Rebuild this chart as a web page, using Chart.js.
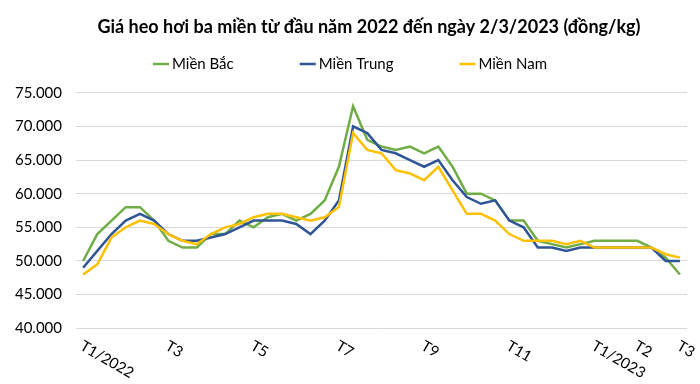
<!DOCTYPE html>
<html>
<head>
<meta charset="utf-8">
<script src="https://cdn.jsdelivr.net/npm/chart.js@4"></script>
<style>
  html, body { margin: 0; padding: 0; background: #fff; }
  #wrap { width: 700px; height: 384px; position: relative; }
</style>
</head>
<body>
<div id="wrap"><canvas id="c" width="700" height="384"></canvas></div>
<script>
const titleText = 'Giá heo hơi ba miền từ đầu năm 2022 đến ngày 2/3/2023 (đồng/kg)';
const tickLabels = ['T1/2022','','','','','','T3','','','','','','T5','','','','','','T7','','','','','','T9','','','','','','T11','','','','','','T1/2023','','','T2','','','T3'];
const seriesNames = ['Miền Bắc', 'Miền Trung', 'Miền Nam'];
const mienBac = [50000,54000,56000,58000,58000,56000,53000,52000,52000,54000,54000,56000,55000,56500,57000,56000,57000,59000,64000,73000,68000,67000,66500,67000,66000,67000,64000,60000,60000,59000,56000,56000,53000,52500,52000,52500,53000,53000,53000,53000,52000,50500,48000];
const mienTrung = [49000,51500,54000,56000,57000,56000,54000,53000,53000,53500,54000,55000,56000,56000,56000,55500,54000,56000,59000,70000,69000,66500,66000,65000,64000,65000,62000,59500,58500,59000,56000,55000,52000,52000,51500,52000,52000,52000,52000,52000,52000,50000,50000];
const mienNam = [48000,49500,53500,55000,56000,55500,54000,53000,52500,54000,55000,55500,56500,57000,57000,56500,56000,56500,58000,69000,66500,66000,63500,63000,62000,64000,60500,57000,57000,56000,54000,53000,53000,53000,52500,53000,52000,52000,52000,52000,52000,51000,50500];
const yTicks = [40000,45000,50000,55000,60000,65000,70000,75000];

const colors = ['#70AD47', '#2F5597', '#FFC000'];
const FONT = 'Lato';

function fmt(v) { return String(v).replace(/\B(?=(\d{3})+(?!\d))/g, '.'); }

const titleShiftPlugin = {
  id: 'titleShift',
  afterLayout(chart) {
    const t = chart.titleBlock;
    if (t) { t.left = 38; t.right = chart.width; }
  }
};

const xLabelPlugin = {
  id: 'xLabels',
  afterDraw(chart) {
    const ctx = chart.ctx, xs = chart.scales.x, area = chart.chartArea;
    ctx.save();
    ctx.font = '15px ' + FONT;
    ctx.fillStyle = '#000';
    ctx.textAlign = 'left';
    ctx.textBaseline = 'top';
    tickLabels.forEach((lab, i) => {
      if (!lab) return;
      const x = xs.getPixelForValue(i);
      ctx.save();
      ctx.translate(x + 2, area.bottom + 10);
      ctx.rotate(30 * Math.PI / 180);
      ctx.fillText(lab, 0, 0);
      ctx.restore();
    });
    ctx.restore();
  }
};

const legendPlugin = {
  id: 'lineLegend',
  afterDraw(chart) {
    const ctx = chart.ctx;
    ctx.save();
    ctx.font = '15px ' + FONT;
    const lineLen = 16, gapText = 3, gapItem = 66;
    const widths = seriesNames.map(n => ctx.measureText(n).width);
    let total = 0;
    widths.forEach((w, i) => { total += lineLen + gapText + w + (i < widths.length - 1 ? gapItem : 0); });
    let x = 350 - total / 2;
    const y = 64;
    ctx.textBaseline = 'middle';
    ctx.textAlign = 'left';
    seriesNames.forEach((n, i) => {
      ctx.strokeStyle = colors[i];
      ctx.lineWidth = 2.5;
      ctx.beginPath();
      ctx.moveTo(x, y);
      ctx.lineTo(x + lineLen, y);
      ctx.stroke();
      ctx.fillStyle = '#000';
      ctx.fillText(n, x + lineLen + gapText, y + 0.5);
      x += lineLen + gapText + widths[i] + gapItem;
    });
    ctx.restore();
  }
};

const seriesData = [mienBac, mienTrung, mienNam];
new Chart(document.getElementById('c'), {
  type: 'line',
  data: {
    labels: tickLabels,
    datasets: seriesNames.map((n, i) => ({
      label: n,
      data: seriesData[i],
      borderColor: colors[i],
      backgroundColor: colors[i],
      borderWidth: 2.5,
      pointRadius: 0,
      tension: 0,
      fill: false,
      order: 3 - i
    }))
  },
  options: {
    responsive: false,
    animation: false,
    devicePixelRatio: 1,
    layout: { padding: { left: 0, right: 13, top: 0, bottom: 0 } },
    plugins: {
      legend: { display: false },
      tooltip: { enabled: false },
      title: {
        display: true,
        text: titleText,
        color: '#000',
        font: { family: FONT, size: 18, weight: 'bold', lineHeight: 1.2 },
        padding: { top: 16.2, bottom: 54.9 }
      }
    },
    scales: {
      x: {
        type: 'category',
        offset: true,
        grid: { display: false },
        border: { display: false },
        ticks: { display: false },
        afterFit(s) { s.height = 55.7; }
      },
      y: {
        min: 40000,
        max: 75000,
        afterBuildTicks(s) { s.ticks = yTicks.map(v => ({ value: v })); },
        grid: { color: '#D9D9D9', lineWidth: 1, drawTicks: false },
        border: { display: false },
        ticks: {
          padding: 14,
          color: '#000',
          font: { family: FONT, size: 15 },
          callback: v => fmt(v)
        },
        afterFit(s) { s.width = 76; }
      }
    }
  },
  plugins: [titleShiftPlugin, xLabelPlugin, legendPlugin]
});
</script>
</body>
</html>
